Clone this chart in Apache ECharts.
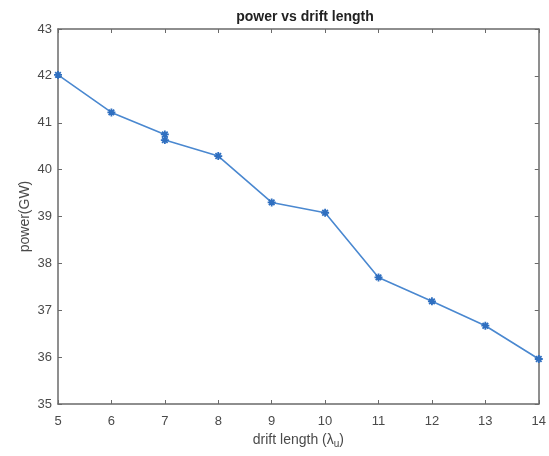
<!DOCTYPE html>
<html>
<head>
<meta charset="utf-8">
<script src="https://cdn.jsdelivr.net/npm/echarts@6/dist/echarts.min.js"></script>
<style>html,body{margin:0;padding:0;background:#fff}#c{width:549px;height:456px}</style>
</head>
<body>
<div id="c"></div>
<script>
var driftLength = [5, 6, 7, 7, 8, 9, 10, 11, 12, 13, 14];
var powerGW = [42.02, 41.22, 40.75, 40.63, 40.29, 39.30, 39.08, 37.70, 37.19, 36.67, 35.96];
var xTicks = [5, 6, 7, 8, 9, 10, 11, 12, 13, 14];
var yTicks = [35, 36, 37, 38, 39, 40, 41, 42, 43];

var data = driftLength.map(function (x, i) { return [x, powerGW[i]]; });
var axisCol = '#6a6a6a';
var labelCol = '#4a4a4a';
var font = 'Liberation Sans, Arial, sans-serif';

var chart = echarts.init(document.getElementById('c'), null, {renderer: 'canvas'});
chart.setOption({
  animation: false,
  backgroundColor: '#fff',
  title: {
    text: 'power vs drift length',
    left: 300, top: 5, textAlign: 'center',
    textStyle: {fontFamily: font, fontSize: 14, fontWeight: 'bold', color: '#222'}
  },
  grid: {left: 58, right: 9, top: 29, bottom: 52},
  xAxis: [{
    type: 'value', min: xTicks[0], max: xTicks[xTicks.length - 1], interval: 1,
    name: 'drift length (λ{sub|u})', nameLocation: 'middle', nameGap: 27,
    nameTextStyle: {fontFamily: font, fontSize: 14, color: labelCol,
      rich: {sub: {fontFamily: font, fontSize: 10, color: labelCol, verticalAlign: 'bottom', padding: [8, 0, 0, 0]}}},
    axisLine: {onZero: false, lineStyle: {color: axisCol, width: 1.5}},
    axisTick: {inside: true, length: 4, lineStyle: {color: axisCol}},
    axisLabel: {fontFamily: font, fontSize: 13, color: labelCol, margin: 11},
    splitLine: {show: false}
  }, {
    type: 'value', position: 'top', min: xTicks[0], max: xTicks[xTicks.length - 1], interval: 1,
    axisLine: {onZero: false, lineStyle: {color: axisCol, width: 1.5}},
    axisTick: {inside: true, length: 4, lineStyle: {color: axisCol}},
    axisLabel: {show: false}, splitLine: {show: false}
  }],
  yAxis: [{
    type: 'value', min: yTicks[0], max: yTicks[yTicks.length - 1], interval: 1,
    name: 'power(GW)', nameLocation: 'middle', nameGap: 26, nameRotate: 90,
    nameMoveOverlap: false,
    nameTextStyle: {fontFamily: font, fontSize: 14, color: labelCol},
    axisLine: {onZero: false, lineStyle: {color: axisCol, width: 1.5}},
    axisTick: {inside: true, length: 4, lineStyle: {color: axisCol}},
    axisLabel: {fontFamily: font, fontSize: 13, color: labelCol, margin: 6, padding: [3, 0, 0, 0]},
    splitLine: {show: false}
  }, {
    type: 'value', position: 'right', min: yTicks[0], max: yTicks[yTicks.length - 1], interval: 1,
    axisLine: {onZero: false, lineStyle: {color: axisCol, width: 1.5}},
    axisTick: {inside: true, length: 4, lineStyle: {color: axisCol}},
    axisLabel: {show: false}, splitLine: {show: false}
  }],
  series: [{
    type: 'line',
    data: data,
    xAxisIndex: 0, yAxisIndex: 0,
    lineStyle: {color: '#4a88d0', width: 1.6},
    symbol: 'path://M0,-5L0,5M-5,0L5,0M-3.5,-3.5L3.5,3.5M-3.5,3.5L3.5,-3.5',
    symbolSize: 8,
    itemStyle: {color: '#2f6fc0', borderColor: '#2f6fc0', borderWidth: 1.8},
    showSymbol: true
  }]
});
</script>
</body>
</html>
